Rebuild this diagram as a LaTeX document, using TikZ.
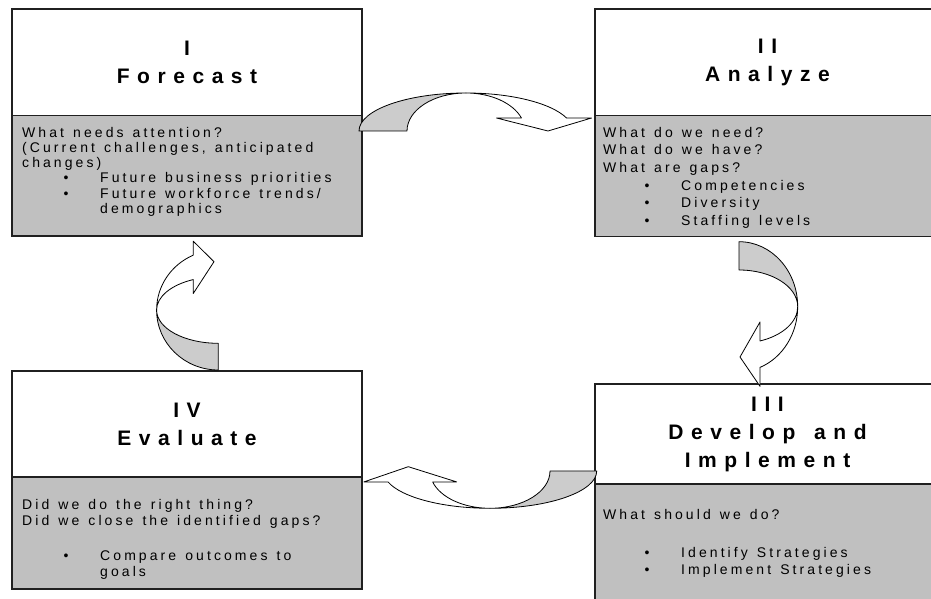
\documentclass[tikz,border=0pt]{standalone}
\usepackage{fontspec}
\usetikzlibrary{positioning}

\newfontfamily\bodyFam{Liberation Sans}[LetterSpace=22, WordSpace=1.3]
\newfontfamily\titleFam{Liberation Sans}[LetterSpace=36, WordSpace=1.4]
\newcommand{\titleFont}{\titleFam\bfseries\fontsize{21pt}{28pt}\selectfont}
\newcommand{\bodyFont}[1]{\bodyFam\fontsize{14pt}{#1}\selectfont}
\newcommand{\bitem}[1]{\hspace*{41.5pt}\makebox[36.5pt][l]{\textbullet}#1}

\definecolor{boxGrey}{HTML}{C0C0C0}
\definecolor{arrowGrey}{HTML}{CCCCCC}
\definecolor{boxLine}{HTML}{202020}

% twisted ribbon arrow: centre, rotation, outer radius, inner radius,
% height, end angle, barb, tip x, tip y
\newcommand{\ribbonArrow}[9]{%
  \begin{scope}[shift={(#1)}, rotate=#2]
    \draw[arrowLine, fill=arrowGrey] (-#3,0)
      arc[start angle=180, end angle=90, x radius=#3, y radius=#5]
      arc[start angle=90, end angle=180, x radius=#4, y radius=#5] -- cycle;
    \draw[arrowLine, fill=white] (0,#5)
      arc[start angle=90, end angle=#6, x radius=#3, y radius=#5]
      -- ({#3*cos(#6)+#7},{#5*sin(#6)}) -- (#8,#9)
      -- ({#4*cos(#6)-#7},{#5*sin(#6)}) -- ({#4*cos(#6)},{#5*sin(#6)})
      arc[start angle=#6, end angle=90, x radius=#4, y radius=#5] -- cycle;
  \end{scope}}

\begin{document}
\begin{tikzpicture}[x=1pt, y=1pt,
    headBox/.style={draw=boxLine, line width=1.3pt, fill=white,
      outer sep=0pt, inner sep=0pt, align=center, font=\titleFont},
    bodyBox/.style={draw=boxLine, line width=1.3pt, fill=boxGrey, outer sep=0pt},
    bodyText/.style={inner sep=0pt, align=left},
    arrowLine/.style={draw=black, line width=0.8pt, line join=round}
  ]
  \clip (0,0) rectangle (931,599);

  % I
  \node[headBox, minimum width=350pt, minimum height=106.7pt, anchor=north west]
    (fcHead) at (12,590) {I\\Forecast};
  \node[bodyBox, minimum width=350pt, minimum height=120.3pt, below=0pt of fcHead] (fcBody) {};
  \node[bodyText, font={\bodyFont{15.3pt}}, below right=11pt and 10pt of fcBody.north west] (fcText)
    {What needs attention?\\(Current challenges, anticipated\\changes)\\
     \bitem{Future business priorities}\\\bitem{Future workforce trends/}\\
     \hspace*{78pt}demographics};

  % II
  \node[headBox, minimum width=345pt, minimum height=106.7pt, anchor=north west]
    (anHead) at (595,590) {II\\Analyze};
  \node[bodyBox, minimum width=345pt, minimum height=121pt, below=0pt of anHead] (anBody) {};
  \node[bodyText, font={\bodyFont{17.7pt}}, below right=11pt and 8pt of anBody.north west] (anText)
    {What do we need?\\What do we have?\\What are gaps?\\
     \bitem{Competencies}\\\bitem{Diversity}\\\bitem{Staffing levels}};

  % III
  \node[headBox, minimum width=345pt, minimum height=100pt, anchor=north west]
    (ipHead) at (595,215) {III\\Develop and\\Implement};
  \node[bodyBox, minimum width=345pt, minimum height=130pt, below=0pt of ipHead] (ipBody) {};
  \node[bodyText, font={\bodyFont{16.7pt}}, below right=25pt and 8pt of ipBody.north west] (ipText)
    {What should we do?\\[21.6pt]
     \bitem{Identify Strategies}\\\bitem{Implement Strategies}};

  % IV
  \node[headBox, minimum width=350pt, minimum height=106pt, anchor=north west]
    (evHead) at (12,228) {IV\\Evaluate};
  \node[bodyBox, minimum width=350pt, minimum height=112pt, below=0pt of evHead] (evBody) {};
  \node[bodyText, font={\bodyFont{15.7pt}}, below right=22pt and 10pt of evBody.north west] (evText)
    {Did we do the right thing?\\Did we close the identified gaps?\\[19.7pt]
     \bitem{Compare outcomes to}\\\hspace*{78pt}goals};

  % cycle arrows
  \ribbonArrow{466,468}{0}{107}{59}{38}{20}{25}{82}{0}
  \ribbonArrow{739,292.3}{-90}{65}{36.7}{58.7}{21}{19}{50.3}{1}
  \ribbonArrow{490,128}{180}{106.7}{60}{37.3}{17}{24}{81.7}{-4.3}
  \ribbonArrow{218.3,289}{90}{60}{33.3}{61.7}{24}{14}{48.3}{4.3}
\end{tikzpicture}
\end{document}
